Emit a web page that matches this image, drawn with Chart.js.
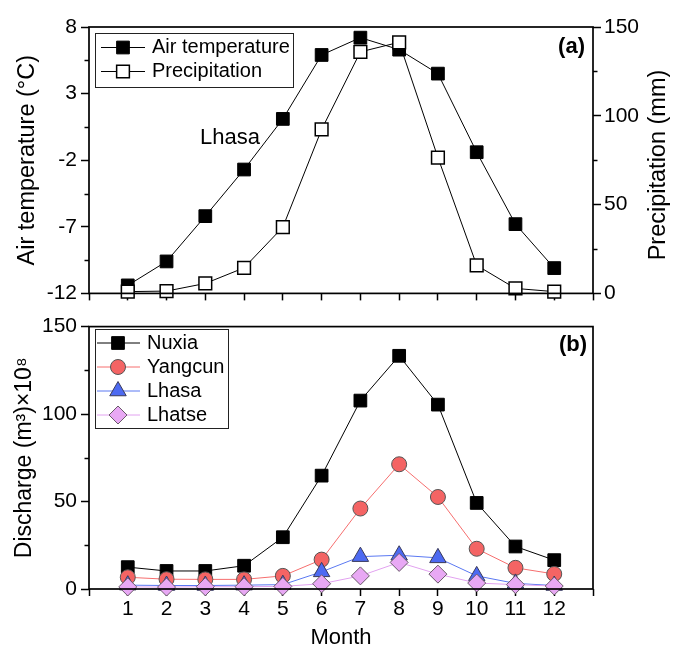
<!DOCTYPE html>
<html><head><meta charset="utf-8">
<script src="https://cdn.jsdelivr.net/npm/chart.js@4.4.1/dist/chart.umd.min.js"></script>
<style>
html,body{margin:0;padding:0;background:#fff;}
#wrap{position:relative;width:673px;height:651px;background:#fff;}
canvas{position:absolute;left:0;}
#cA{top:0;}
#cB{top:310px;}
</style></head><body>
<div id="wrap"><canvas id="cA" width="673" height="310"></canvas><canvas id="cB" width="673" height="341"></canvas></div>
<script>
// ---- data ----
const MONTHS = [1,2,3,4,5,6,7,8,9,10,11,12];
const MONTH_TICKS = [0,1,2,3,4,5,6,7,8,9,10,11,12,13];
const AIR_TEMP = [-11.4,-9.6,-6.2,-2.7,1.1,5.9,7.2,6.3,4.5,-1.4,-6.8,-10.1];
const PRECIP = [1.0,1.3,5.6,14.4,37.3,92.3,136,141.4,76.5,15.8,2.8,1.0];
const NUXIA = [12.5,10.3,10.3,13.3,29.6,64.8,107.7,133.3,105.4,49.2,24.3,16.5];
const YANGCUN = [6.7,5.6,5.5,5.5,7.5,16.8,46.0,71.3,52.6,23.0,12.1,8.6];
const LHASA = [2.2,2.0,2.0,2.2,2.5,9.8,18.5,19.3,17.8,7.5,3.2,2.0];
const LHATSE = [1.2,1.1,1.3,1.3,1.5,3.0,7.5,15.2,8.5,3.4,2.5,1.7];
const TEMP_TICKS = [-12,-7,-2,3,8];
const TEMP_MINOR = [-9.5,-4.5,0.5,5.5];
const PRECIP_TICKS = [0,50,100,150];
const PRECIP_MINOR = [25,75,125];
const DISCHARGE_TICKS = [0,50,100,150];
const DISCHARGE_MINOR = [25,75,125];

const FONT = "'Liberation Sans', Arial, sans-serif";
Chart.defaults.font.family = FONT;
Chart.defaults.color = '#000';

const pts = arr => MONTHS.map((m,i)=>({x:m,y:arr[i]}));
const fixW = w => s => { s.width = w; };
const fixH = h => s => { s.height = h; };
const setTicks = vals => s => { s.ticks = vals.map(v=>({value:v})); };
const TICK_FONT = {size:21};
const grid = {drawOnChartArea:false, drawTicks:true, tickLength:8, tickWidth:1.5, tickColor:'#000'};

function xAxis(showLabels, h, withTitle){
  const ax = {type:'linear', min:0, max:13, position:'bottom',
    afterBuildTicks:setTicks(MONTH_TICKS),
    grid:{...grid, tickLength:7},
    border:{display:false},
    ticks:{font:TICK_FONT, padding:1, maxRotation:0, autoSkip:false,
      callback:v => (showLabels && v>=1 && v<=12) ? String(v) : ''},
    afterFit:fixH(h)};
  if (withTitle) ax.title = {display:true, text:'Month', font:{size:22}, padding:{top:0,bottom:0}};
  return ax;
}

// ---- plugins ----
const frame = {id:'frame', afterDraw(chart){
  const {left,top,right,bottom} = chart.chartArea; const ctx = chart.ctx;
  ctx.save(); ctx.strokeStyle='#000'; ctx.lineWidth=1.7;
  ctx.strokeRect(left,top,right-left,bottom-top); ctx.restore();
}};
const minorTicks = {id:'minorTicks', afterDraw(chart, args, o){
  const ctx = chart.ctx; ctx.save(); ctx.strokeStyle='#000'; ctx.lineWidth=1.5;
  (o.axes||[]).forEach(a=>{
    const s = chart.scales[a.id];
    a.values.forEach(v=>{
      const y = Math.round(s.getPixelForValue(v))+0.5;
      ctx.beginPath();
      if (s.position==='left'){ ctx.moveTo(s.right,y); ctx.lineTo(s.right-4.5,y); }
      else { ctx.moveTo(s.left,y); ctx.lineTo(s.left+4.5,y); }
      ctx.stroke();
    });
  });
  ctx.restore();
}};
const texts = {id:'texts', afterDraw(chart, args, o){
  const ctx = chart.ctx;
  (o.items||[]).forEach(t=>{
    ctx.save();
    ctx.font = (t.bold?'bold ':'') + t.size + 'px ' + FONT;
    ctx.fillStyle='#000'; ctx.textAlign=t.align||'left'; ctx.textBaseline='middle';
    ctx.translate(t.x,t.y); if (t.rot) ctx.rotate(t.rot);
    ctx.fillText(t.text,0,0);
    ctx.restore();
  });
}};
const boxLegend = {id:'boxLegend', afterDraw(chart, args, o){
  const ctx = chart.ctx; ctx.save();
  ctx.lineWidth=1; ctx.strokeStyle='#222';
  ctx.strokeRect(o.x+0.5,o.y+0.5,o.w,o.h);
  ctx.font = o.size+'px '+FONT; ctx.textBaseline='middle'; ctx.textAlign='left';
  chart.data.datasets.forEach((ds,i)=>{
    const y = o.y + o.first + i*o.step;
    ctx.beginPath(); ctx.strokeStyle=ds.borderColor; ctx.lineWidth=ds.borderWidth;
    ctx.moveTo(o.x1,y); ctx.lineTo(o.x2,y); ctx.stroke();
    ctx.fillStyle=ds.pointBackgroundColor; ctx.strokeStyle=ds.pointBorderColor; ctx.lineWidth=ds.pointBorderWidth;
    Chart.helpers.drawPoint(ctx,{pointStyle:ds.pointStyle, radius:ds.pointRadius, rotation:0, borderWidth:ds.pointBorderWidth}, o.mx, y);
    ctx.fillStyle='#000'; ctx.fillText(ds.label,o.tx,y);
  });
  ctx.restore();
}};

// ---- panel (a) ----
new Chart(document.getElementById('cA'), {
  type:'line',
  data:{datasets:[
    {label:'Air temperature', data:pts(AIR_TEMP), yAxisID:'yT', order:1, borderColor:'#000', borderWidth:1,
     pointStyle:'rect', pointRadius:9, pointBackgroundColor:'#000', pointBorderColor:'#000', pointBorderWidth:1, clip:false},
    {label:'Precipitation', data:pts(PRECIP), yAxisID:'yP', order:0, borderColor:'#000', borderWidth:1,
     pointStyle:'rect', pointRadius:9, pointBackgroundColor:'#fff', pointBorderColor:'#000', pointBorderWidth:1.5, clip:false}
  ]},
  options:{
    responsive:false, animation:false, devicePixelRatio:1,
    layout:{padding:{top:27,left:0,right:0,bottom:0}},
    plugins:{legend:{display:false}, tooltip:{enabled:false},
      minorTicks:{axes:[{id:'yT',values:TEMP_MINOR},{id:'yP',values:PRECIP_MINOR}]},
      texts:{items:[
        {text:'(a)', x:585, y:47, align:'right', size:22, bold:true},
        {text:'Lhasa', x:200, y:138, align:'left', size:22},
        {text:'Precipitation (mm)', x:659, y:165, align:'center', size:23.5, rot:-Math.PI/2}
      ]},
      boxLegend:{x:95, y:33, w:198, h:54, first:14.5, step:24, x1:101, x2:145, mx:123, tx:152, size:20}
    },
    scales:{
      x:xAxis(false,15,false),
      yT:{type:'linear', position:'left', min:-12, max:8, afterBuildTicks:setTicks(TEMP_TICKS),
        grid:grid, border:{display:false}, ticks:{font:TICK_FONT, padding:4, callback:v=>String(v)},
        title:{display:true, text:'Air temperature (°C)', font:{size:23.5}, padding:{top:13,bottom:0}},
        afterFit:fixW(89)},
      yP:{type:'linear', position:'right', min:0, max:150, afterBuildTicks:setTicks(PRECIP_TICKS),
        grid:grid, border:{display:false}, ticks:{font:TICK_FONT, padding:3, callback:v=>String(v)},
        afterFit:fixW(80)}
    }
  },
  plugins:[frame, minorTicks, texts, boxLegend]
});

// ---- panel (b) ----
new Chart(document.getElementById('cB'), {
  type:'line',
  data:{datasets:[
    {label:'Nuxia', data:pts(NUXIA), order:3, borderColor:'#000', borderWidth:1,
     pointStyle:'rect', pointRadius:9, pointBackgroundColor:'#000', pointBorderColor:'#000', pointBorderWidth:1, clip:false},
    {label:'Yangcun', data:pts(YANGCUN), order:2, borderColor:'#F66E6E', borderWidth:1,
     pointStyle:'circle', pointRadius:7.5, pointBackgroundColor:'#F46464', pointBorderColor:'#555', pointBorderWidth:1, clip:false},
    {label:'Lhasa', data:pts(LHASA), order:1, borderColor:'#5A78F2', borderWidth:1,
     pointStyle:'triangle', pointRadius:9.5, pointBackgroundColor:'#4D6AF2', pointBorderColor:'#3a3a5a', pointBorderWidth:1, clip:false},
    {label:'Lhatse', data:pts(LHATSE), order:0, borderColor:'#E2A2F0', borderWidth:1,
     pointStyle:'rectRot', pointRadius:9, pointBackgroundColor:'#E8A8F4', pointBorderColor:'#6a5a6a', pointBorderWidth:1, clip:false}
  ]},
  options:{
    responsive:false, animation:false, devicePixelRatio:1,
    layout:{padding:{top:12,left:0,right:80,bottom:0}},
    plugins:{legend:{display:false}, tooltip:{enabled:false},
      minorTicks:{axes:[{id:'y',values:DISCHARGE_MINOR}]},
      texts:{items:[
        {text:'(b)', x:587, y:35, align:'right', size:22, bold:true}
      ]},
      boxLegend:{x:95, y:19, w:133, h:99, first:14, step:24, x1:97, x2:140, mx:118, tx:147, size:20}
    },
    scales:{
      x:xAxis(true,62,true),
      y:{type:'linear', position:'left', min:0, max:150, afterBuildTicks:setTicks(DISCHARGE_TICKS),
        grid:grid, border:{display:false}, ticks:{font:TICK_FONT, padding:4, callback:v=>String(v)},
        title:{display:true, text:'Discharge (m³)×10⁸', font:{size:23}, padding:{top:11,bottom:0}},
        afterFit:fixW(89)}
    }
  },
  plugins:[frame, minorTicks, texts, boxLegend]
});
</script>
</body></html>
